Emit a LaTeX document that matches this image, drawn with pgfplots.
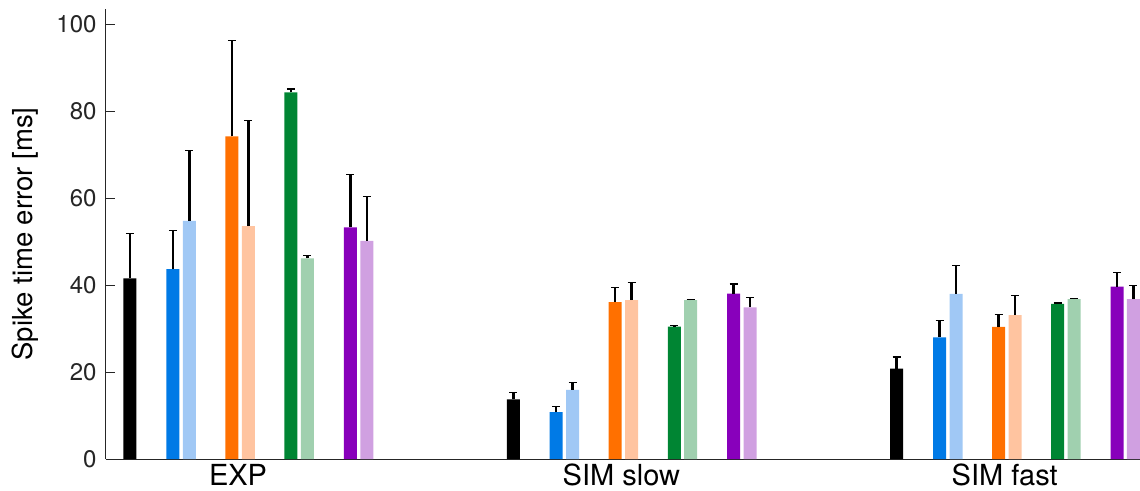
\documentclass[border=0pt]{standalone}
\usepackage{fontspec}
\setmainfont{TeX Gyre Heros}
\usepackage{pgfplots}
\pgfplotsset{compat=1.18}
\definecolor{cblack}{RGB}{0,0,0}
\definecolor{cblue}{RGB}{0,122,230}
\definecolor{clblue}{RGB}{160,200,245}
\definecolor{corange}{RGB}{255,112,0}
\definecolor{clorange}{RGB}{255,196,160}
\definecolor{cgreen}{RGB}{0,133,51}
\definecolor{clgreen}{RGB}{160,208,175}
\definecolor{cpurple}{RGB}{136,0,187}
\definecolor{clpurple}{RGB}{208,160,225}
\definecolor{axgray}{RGB}{38,38,38}
\begin{document}
\begin{tikzpicture}
\useasboundingbox (-106pt,-31pt) rectangle (1034pt,459pt);
\begin{axis}[
  at={(0,0)}, anchor=south west,
  scale only axis, width=1034pt, height=450pt,
  xmin=0.6556, xmax=3.353, ymin=0, ymax=103.6,
  axis lines*=left,
  axis line style={line width=1pt, color=axgray},
  xtick={1,2,3}, xticklabels={EXP,SIM slow,SIM fast},
  x tick style={draw=none}, major tick length=9pt,
  ytick={0,20,40,60,80,100},
  y tick style={line width=0.8pt, color=axgray},
  tick align=inside,
  /pgf/number format/assume math mode=true,
  yticklabel style={font=\fontsize{24}{28}\selectfont, text=axgray, xshift=-6pt},
  xticklabel style={font=\fontsize{29}{34}\selectfont, text=black, anchor=base, yshift=-17pt},
  every axis y label/.style={at={(axis description cs:0,0.5)}, xshift=-81pt, rotate=90, anchor=center, font=\fontsize{27.5}{32}\selectfont},
  ylabel={Spike time error [ms]},
  ybar, bar width=0.0339, bar shift=0pt,
  every axis plot/.append style={draw=none,
    error bars/y dir=plus, error bars/y explicit,
    error bars/error bar style={line width=2.5pt, black},
    error bars/error mark options={rotate=90, mark size=4pt, line width=1.2pt, black}},
]
\addplot[fill=cblack] coordinates {(0.718,41.6) +- (0,10.3) (1.718,13.7) +- (0,1.7) (2.718,20.8) +- (0,2.7)};
\addplot[fill=cblue] coordinates {(0.830,43.7) +- (0,8.9) (1.830,10.8) +- (0,1.3) (2.830,28.0) +- (0,3.9)};
\addplot[fill=clblue] coordinates {(0.873,54.8) +- (0,16.2) (1.873,15.9) +- (0,1.7) (2.873,38.0) +- (0,6.6)};
\addplot[fill=corange] coordinates {(0.984,74.3) +- (0,22.1) (1.984,36.1) +- (0,3.3) (2.984,30.4) +- (0,2.9)};
\addplot[fill=clorange] coordinates {(1.027,53.6) +- (0,24.3) (2.027,36.6) +- (0,4.0) (3.027,33.1) +- (0,4.5)};
\addplot[fill=cgreen] coordinates {(1.138,84.4) +- (0,0.8) (2.138,30.5) +- (0,0.2) (3.138,35.7) +- (0,0.2)};
\addplot[fill=clgreen] coordinates {(1.181,46.2) +- (0,0.6) (2.181,36.6) +- (0,0.2) (3.181,36.8) +- (0,0.2)};
\addplot[fill=cpurple] coordinates {(1.293,53.3) +- (0,12.2) (2.293,38.1) +- (0,2.2) (3.293,39.7) +- (0,3.3)};
\addplot[fill=clpurple] coordinates {(1.336,50.2) +- (0,10.3) (2.336,34.9) +- (0,2.2) (3.336,36.8) +- (0,3.1)};
\end{axis}
\end{tikzpicture}
\end{document}
